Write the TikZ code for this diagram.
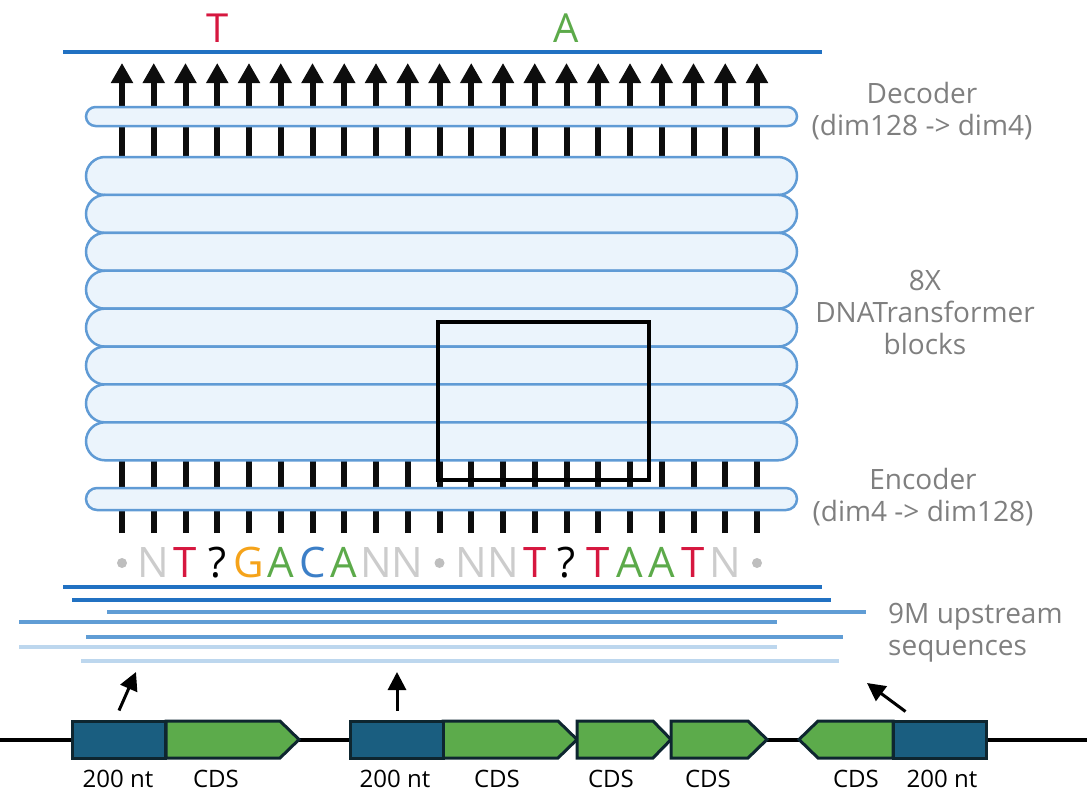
\documentclass[tikz,border=0pt]{standalone}
\usepackage{fontspec}
\setmainfont{Open Sans}
\usetikzlibrary{arrows.meta}
\definecolor{seqblue}{RGB}{33,113,194}
\definecolor{midblue}{RGB}{96,157,213}
\definecolor{paleblue}{RGB}{189,215,238}
\definecolor{layerline}{RGB}{96,155,213}
\definecolor{layerfill}{RGB}{235,244,252}
\definecolor{ngray}{RGB}{204,204,204}
\definecolor{dotgray}{RGB}{190,190,190}
\definecolor{tred}{RGB}{214,23,63}
\definecolor{agreen}{RGB}{92,170,74}
\definecolor{gorange}{RGB}{245,163,26}
\definecolor{cblue}{RGB}{60,127,199}
\definecolor{notegray}{RGB}{127,127,127}
\definecolor{promofill}{RGB}{26,94,128}
\definecolor{cdsfill}{RGB}{92,171,75}
\definecolor{geneline}{RGB}{14,38,48}

\begin{document}
\begin{tikzpicture}[x=1pt,y=-1pt,>={Triangle[width=21pt,length=20pt]},
    every node/.style={inner sep=0pt},
    nt/.style={anchor=base,font=\fontsize{42}{42}\selectfont},
    gap/.style={circle,fill=dotgray,minimum size=10pt},
    layer/.style={draw=layerline,fill=layerfill,line width=2.5pt,minimum width=711pt},
    shaft/.style={line width=6pt,draw=black!95},
    note/.style={text=notegray,font=\fontsize{28}{32}\selectfont,align=center},
    read/.style={line width=4pt},
    promo/.style={draw=geneline,fill=promofill,line width=3pt,minimum width=93pt,minimum height=37pt},
    cds/.style={draw=geneline,fill=cdsfill,line width=3pt},
    gene/.style={anchor=base,font=\fontsize{24}{24}\selectfont},
    pick/.style={line width=3pt,-{Triangle[width=18pt,length=18pt]}}]
    \useasboundingbox (0,0) rectangle (1087,803);

    % predicted bases
    \node[nt,font=\fontsize{40}{40}\selectfont,text=tred] (outT) at (217.25,42) {T};
    \node[nt,font=\fontsize{40}{40}\selectfont,text=agreen] (outA) at (566.5,42) {A};
    \draw[read,seqblue] (63,52) -- (822,52);

    % masked input
    \node[gap] (s0) at (122,563) {};
    \node[nt,text=ngray] (s1) at (153.75,577) {N};
    \node[nt,text=tred] (s2) at (185.5,577) {T};
    \node[nt] (s3) at (217.25,577) {?};
    \node[nt,text=gorange] (s4) at (249,577) {G};
    \node[nt,text=agreen] (s5) at (280.75,577) {A};
    \node[nt,text=cblue] (s6) at (312.5,577) {C};
    \node[nt,text=agreen] (s7) at (344.25,577) {A};
    \node[nt,text=ngray] (s8) at (376,577) {N};
    \node[nt,text=ngray] (s9) at (407.75,577) {N};
    \node[gap] (s10) at (439.5,563) {};
    \node[nt,text=ngray] (s11) at (471.25,577) {N};
    \node[nt,text=ngray] (s12) at (503,577) {N};
    \node[nt,text=tred] (s13) at (534.75,577) {T};
    \node[nt] (s14) at (566.5,577) {?};
    \node[nt,text=tred] (s15) at (598.25,577) {T};
    \node[nt,text=agreen] (s16) at (630,577) {A};
    \node[nt,text=agreen] (s17) at (661.75,577) {A};
    \node[nt,text=tred] (s18) at (693.5,577) {T};
    \node[nt,text=ngray] (s19) at (725.25,577) {N};
    \node[gap] (s20) at (757,563) {};

    \coordinate (inlo) at (0,533);
    \coordinate (inhi) at (0,460);
    \coordinate (outlo) at (0,157);
    \coordinate (outhi) at (0,63);
    \foreach \i in {0,...,20} {
        \draw[shaft] (s\i |- inlo) -- (s\i |- inhi);
        \draw[shaft,->] (s\i |- outlo) -- (s\i |- outhi);
    }

    % encoder, transformer stack, decoder
    \node[layer,minimum height=22pt,rounded corners=11pt] (enc) at (441.5,499) {};
    \node[layer,minimum height=19pt,rounded corners=9.5pt] (dec) at (441.5,116.5) {};
    \foreach \k in {1,...,8}
        \node[layer,minimum height=38pt,rounded corners=19pt] (blk\k) at (441.5,{176+37.9*(\k-1)}) {};
    \draw[line width=4pt] (438,322) rectangle (649,480);

    \node[note] (decnote) at (922,110.7) {Decoder\\(dim128 -> dim4)};
    \node[note] (blknote) at (925,312) {8X\\DNATransformer\\blocks};
    \node[note] (encnote) at (923,496.8) {Encoder\\(dim4 -> dim128)};

    % training reads
    \draw[read,seqblue] (63,587) -- (822,587);
    \draw[read,seqblue] (72,600) -- (831,600);
    \draw[read,midblue] (107,612) -- (866,612);
    \draw[read,midblue] (19,622) -- (777,622);
    \draw[read,midblue] (86,637) -- (843,637);
    \draw[read,paleblue] (19,647) -- (777,647);
    \draw[read,paleblue] (81,661) -- (839,661);
    \node[note,anchor=west,align=left] (readnote) at (888,632.4) {9M upstream\\sequences};

    % genome
    \draw[line width=4pt] (0,739.5) -- (1087,739.5);
    \draw[cds] (166,721) -- (280,721) -- (299,739.5) -- (280,758) -- (166,758) -- cycle;
    \draw[cds] (443,721) -- (558,721) -- (577,739.5) -- (558,758) -- (443,758) -- cycle;
    \draw[cds] (577,721) -- (653,721) -- (671,739.5) -- (653,758) -- (577,758) -- cycle;
    \draw[cds] (671,721) -- (748,721) -- (767,739.5) -- (748,758) -- (671,758) -- cycle;
    \draw[cds] (893,721) -- (818,721) -- (799,739.5) -- (818,758) -- (893,758) -- cycle;
    \node[promo] (pr1) at (119,739.5) {};
    \node[promo] (pr2) at (397,739.5) {};
    \node[promo] (pr3) at (939.5,739.5) {};

    \coordinate (up1) at (136,672);
    \coordinate (up2) at (397,672);
    \coordinate (up3) at (867,683);
    \draw[pick] ([yshift=9pt]pr1.north) -- (up1);
    \draw[pick] ([yshift=9pt]pr2.north) -- (up2);
    \draw[pick] ([xshift=14pt,yshift=8pt]pr3.north west) -- (up3);

    \node[gene] (nt1) at (118,787) {200 nt};
    \node[gene] (cd1) at (216,787) {CDS};
    \node[gene] (nt2) at (395,787) {200 nt};
    \node[gene] (cd2) at (497,787) {CDS};
    \node[gene] (cd3) at (611,787) {CDS};
    \node[gene] (cd4) at (708,787) {CDS};
    \node[gene] (cd5) at (856,787) {CDS};
    \node[gene] (nt3) at (942,787) {200 nt};
\end{tikzpicture}
\end{document}
